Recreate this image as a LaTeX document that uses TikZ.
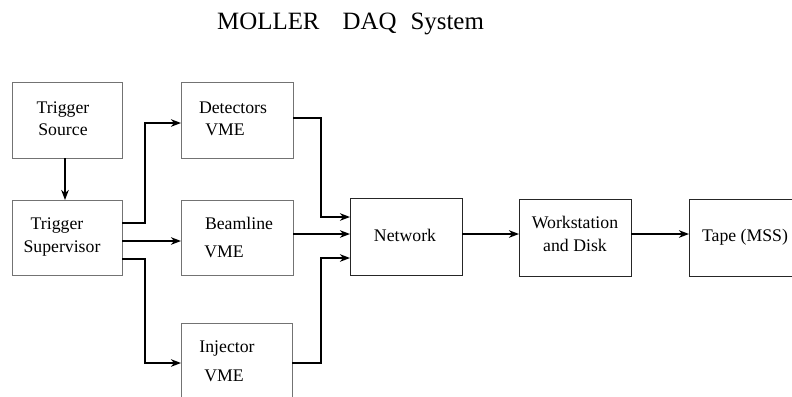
\documentclass[tikz,border=0pt]{standalone}
\usepackage{fontspec}
\setmainfont{Liberation Serif}
\usetikzlibrary{arrows.meta}
\definecolor{boxgray}{RGB}{115,115,115}
\tikzset{
  box/.style={draw=boxgray, line width=1bp, inner sep=0pt, outer sep=0pt, anchor=north west},
  darkbox/.style={box, draw=black!85},
  txt/.style={anchor=base, inner sep=0pt, font=\fontsize{17.8}{21}\selectfont},
  arr/.style={line width=1.9bp, -{Stealth[length=10bp,width=7.5bp,inset=3bp]}},
}
\begin{document}
\begin{tikzpicture}[x=1bp,y=-1bp]
\useasboundingbox (0,0) rectangle (792,396);
\clip (0,0) rectangle (792,396);
\fill[white] (0,0) rectangle (792,396);
% title
\node[anchor=base west, inner sep=0pt, font=\fontsize{25}{30}\selectfont] (title) at (217,29) {MOLLER\hspace{23bp}DAQ\hspace{14bp}System};
% boxes
\node[box, minimum width=110bp, minimum height=76bp] (ts) at (12,82) {};
\node[box, minimum width=110bp, minimum height=75bp] (tsup) at (12,200) {};
\node[box, minimum width=112bp, minimum height=76bp] (det) at (181,82) {};
\node[box, minimum width=112bp, minimum height=75bp] (beam) at (181,200) {};
\node[box, minimum width=111bp, minimum height=80bp] (inj) at (181,323) {};
\node[darkbox, minimum width=112bp, minimum height=77bp] (net) at (350,198) {};
\node[darkbox, minimum width=112bp, minimum height=77bp] (ws) at (519,199) {};
\node[darkbox, minimum width=120bp, minimum height=77bp] (tape) at (689,199) {};
% texts
\node[txt] (ts1) at (63,113) {Trigger};
\node[txt] (ts2) at (63,135) {Source};
\node[txt] (tsup1) at (57,229) {Trigger};
\node[txt] (tsup2) at (62,252) {Supervisor};
\node[txt] (det1) at (233,113) {Detectors};
\node[txt] (det2) at (225,135) {VME};
\node[txt] (beam1) at (239,229) {Beamline};
\node[txt] (beam2) at (224,257) {VME};
\node[txt] (inj1) at (227,352) {Injector};
\node[txt] (inj2) at (224,381) {VME};
\node[txt] (net1) at (405,241) {Network};
\node[txt] (ws1) at (575,228) {Workstation};
\node[txt] (ws2) at (575,251) {and Disk};
\node[txt] (tape1) at (745,241) {Tape (MSS)};
% connectors
\draw[arr] (ts.south -| 65,0) -- (tsup.north -| 65,0);
\draw[arr] (tsup.east |- 0,223) -- (145,223) |- (det.west |- 0,123);
\draw[arr] (tsup.east |- 0,241) -- (beam.west |- 0,241);
\draw[arr] (tsup.east |- 0,259) -- (145,259) |- (inj.west |- 0,363);
\draw[arr] (det.east |- 0,118) -- (321,118) |- (net.west |- 0,217);
\draw[arr] (beam.east |- 0,234) -- (net.west |- 0,234);
\draw[arr] (inj.east |- 0,363) -- (321,363) |- (net.west |- 0,258);
\draw[arr] (net.east |- 0,234) -- (ws.west |- 0,234);
\draw[arr] (ws.east |- 0,234) -- (tape.west |- 0,234);
\end{tikzpicture}
\end{document}
